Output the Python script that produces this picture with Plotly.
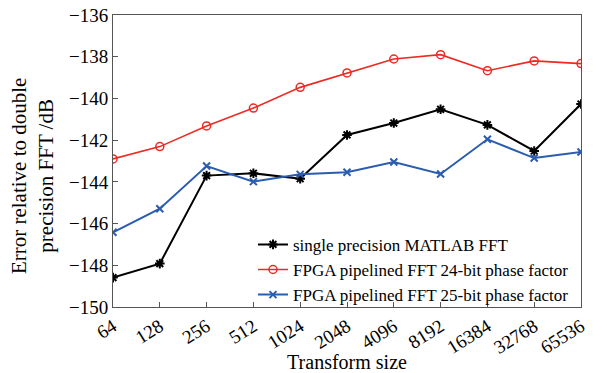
import plotly.graph_objects as go

sizes = ["64", "128", "256", "512", "1024", "2048", "4096", "8192", "16384", "32768", "65536"]
matlab_single = [-148.59, -147.92, -143.70, -143.59, -143.85, -141.75, -141.18, -140.52, -141.27, -142.52, -140.27]
fpga_24bit = [-142.90, -142.31, -141.32, -140.46, -139.47, -138.78, -138.11, -137.90, -138.67, -138.20, -138.33]
fpga_25bit = [-146.42, -145.29, -143.24, -143.99, -143.64, -143.54, -143.05, -143.62, -141.96, -142.86, -142.57]

FONT = "Liberation Serif"

fig = go.Figure()
fig.add_trace(go.Scatter(x=sizes, y=matlab_single, mode="lines+markers",
                         name="single precision MATLAB FFT",
                         line=dict(color="black", width=2),
                         marker=dict(symbol="asterisk-open", size=8, color="black", line=dict(width=2, color="black"))))
fig.add_trace(go.Scatter(x=sizes, y=fpga_24bit, mode="lines+markers",
                         name="FPGA pipelined FFT 24-bit phase factor",
                         line=dict(color="#ee2a24", width=1.6),
                         marker=dict(symbol="circle-open", size=8, color="#ee2a24", line=dict(width=1.5, color="#ee2a24"))))
fig.add_trace(go.Scatter(x=sizes, y=fpga_25bit, mode="lines+markers",
                         name="FPGA pipelined FFT 25-bit phase factor",
                         line=dict(color="#2a5cb0", width=2),
                         marker=dict(symbol="x-thin-open", size=7, color="#2a5cb0", line=dict(width=2, color="#2a5cb0"))))

fig.update_layout(
    width=607, height=373,
    margin=dict(l=113, r=26, t=15, b=66),
    paper_bgcolor="white", plot_bgcolor="white",
    font=dict(family=FONT, size=18, color="black"),
    showlegend=True,
    legend=dict(x=0.985, y=-0.02, xanchor="right", yanchor="bottom",
                bgcolor="rgba(255,255,255,0)", font=dict(size=17, family=FONT),
                tracegroupgap=0, itemwidth=30),
    xaxis=dict(type="category", range=[0, 10], showgrid=False, zeroline=False, automargin=False,
               showline=True, linecolor="#555", linewidth=1, mirror=True,
               ticks="inside", ticklen=5, tickcolor="#555", tickangle=-32,
               tickfont=dict(size=19, family=FONT),
               title=dict(text="Transform size", font=dict(size=20, family=FONT), standoff=0)),
    yaxis=dict(range=[-150, -136], dtick=2, showgrid=False, zeroline=False, automargin=False,
               showline=True, linecolor="#555", linewidth=1, mirror=True,
               ticks="inside", ticklen=5, tickcolor="#555",
               tickfont=dict(size=19, family=FONT)),
    annotations=[dict(text="Error relative to double<br>precision FFT /dB", textangle=-90,
                      xref="paper", yref="paper", x=-0.172, y=0.45, xanchor="center", yanchor="middle",
                      showarrow=False, font=dict(size=21, family=FONT))],
)

fig.write_html("out.html", config={"displayModeBar": False},
               post_script="document.body.style.margin='0';document.body.style.padding='0';")
